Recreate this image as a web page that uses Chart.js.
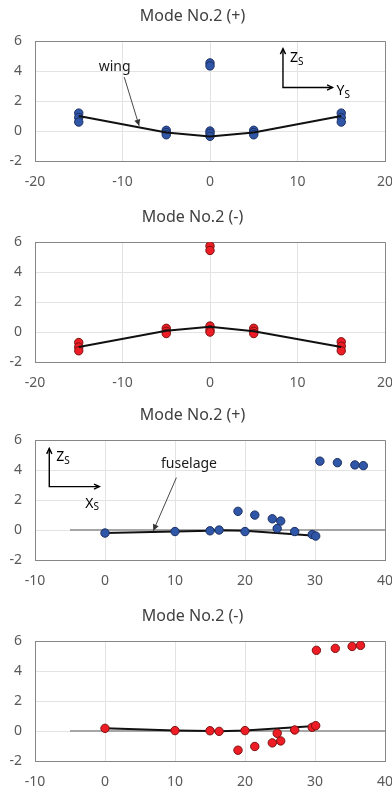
<!DOCTYPE html>
<html>
<head>
<meta charset="utf-8">
<script src="https://cdn.jsdelivr.net/npm/chart.js@4/dist/chart.umd.min.js"></script>
<style>
	html, body { margin: 0; padding: 0; background: #fff; overflow: hidden; }
	canvas { position: absolute; left: 0; }
</style>
</head>
<body>
<canvas id="c1" width="392" height="200" style="top:0"></canvas>
<canvas id="c2" width="392" height="200" style="top:201px"></canvas>
<canvas id="c3" width="392" height="200" style="top:399px"></canvas>
<canvas id="c4" width="392" height="200" style="top:600px"></canvas>
<script>
// ── Data ────────────────────────────────────────────────────────────
// Wing (span position Ys vs. vertical Zs)
const wingStations  = [-15, -5, 0, 5, 15];
const wingPointsX   = [-15, -15, -15, -5, -5, -5, 0, 0, 0, 0, 0, 5, 5, 5, 15, 15, 15];
const wingPlusZ     = [1.2, 0.9, 0.6, 0.05, -0.1, -0.25, 4.55, 4.35, 0, -0.15, -0.35, 0.05, -0.1, -0.25, 1.2, 0.9, 0.6];
const wingPlusLine  = [1.0, -0.1, -0.37, -0.1, 1.0];
const wingMinusZ    = [-0.7, -1.0, -1.25, 0.25, 0.05, -0.1, 5.75, 5.45, 0.4, 0.15, 0.0, 0.25, 0.05, -0.1, -0.65, -0.95, -1.25];
const wingMinusLine = [-1.0, 0.08, 0.36, 0.05, -1.0];

// Fuselage (length position Xs vs. vertical Zs)
const fusStations   = [0, 10, 15, 16.3, 20, 30];
const fusPlusX      = [0, 10, 15, 16.3, 20, 19, 21.4, 23.9, 25.1, 24.6, 27.1, 29.6, 30.1, 30.7, 33.2, 35.7, 36.9];
const fusPlusZ      = [-0.2, -0.1, -0.05, 0, -0.1, 1.25, 1.0, 0.75, 0.6, 0.1, -0.1, -0.3, -0.4, 4.6, 4.5, 4.35, 4.3];
const fusPlusLine   = [-0.2, -0.1, -0.05, -0.02, -0.05, -0.38];
const fusMinusX     = [0, 10, 15, 16.3, 20, 19, 21.4, 23.9, 25.1, 24.6, 27.1, 29.6, 30.1, 30.2, 32.9, 35.3, 36.5];
const fusMinusZ     = [0.18, 0.03, 0.02, -0.02, 0.03, -1.28, -1.03, -0.79, -0.66, -0.15, 0.07, 0.25, 0.36, 5.39, 5.52, 5.65, 5.72];
const fusMinusLine  = [0.18, 0.03, 0.0, -0.02, 0.03, 0.33];

const baseX = [-5, 40];
const baseZ = [0, 0];

const wingTicks = [-20, -10, 0, 10, 20];
const fusTicks  = [-10, 0, 10, 20, 30, 40];
const zTicks    = [-2, 0, 2, 4, 6];

// ── Styles ──────────────────────────────────────────────────────────
const FONT  = "'Noto Sans', sans-serif";
const FRAME = "#868686";
const GRID  = "#e3e3e3";
const BLUE  = { fill: "#3056a8", edge: "#1b2f63" };
const RED   = { fill: "#ee1c24", edge: "#7a1212" };

const pts = (xs, ys) => xs.map((x, i) => ({ x: x, y: ys[i] }));

// ── Annotations (placed in data units) ──────────────────────────────
function arrowHead(ctx, x1, y1, x2, y2, size, filled) {
	const a = Math.atan2(y2 - y1, x2 - x1);
	ctx.beginPath();
	ctx.moveTo(x2 - size * Math.cos(a - 0.45), y2 - size * Math.sin(a - 0.45));
	ctx.lineTo(x2, y2);
	ctx.lineTo(x2 - size * Math.cos(a + 0.45), y2 - size * Math.sin(a + 0.45));
	if (filled) { ctx.closePath(); ctx.fill(); } else { ctx.stroke(); }
}

function subLabel(ctx, x, y, main, sub) {
	ctx.font = "14px " + FONT;
	ctx.textBaseline = "middle";
	ctx.textAlign = "left";
	ctx.fillText(main, x, y);
	const w = ctx.measureText(main).width;
	ctx.font = "10px " + FONT;
	ctx.fillText(sub, x + w, y + 4);
}

function notePlugin(note) {
	return {
		id: "note",
		afterDatasetsDraw(chart) {
			const ctx = chart.ctx, sx = chart.scales.x, sy = chart.scales.y;
			const px = v => sx.getPixelForValue(v), py = v => sy.getPixelForValue(v);
			ctx.save();
			ctx.fillStyle = "#000";
			ctx.strokeStyle = "#000";

			// leader arrow + label
			ctx.font = "14px " + FONT;
			ctx.textAlign = "center";
			ctx.textBaseline = "middle";
			ctx.fillStyle = "#1a1a1a";
			ctx.fillText(note.text, px(note.tx), py(note.ty));
			ctx.strokeStyle = "#333";
			ctx.fillStyle = "#333";
			ctx.lineWidth = 0.9;
			ctx.beginPath();
			ctx.moveTo(px(note.a[0]), py(note.a[1]));
			ctx.lineTo(px(note.b[0]), py(note.b[1]));
			ctx.stroke();
			arrowHead(ctx, px(note.a[0]), py(note.a[1]), px(note.b[0]), py(note.b[1]), 7, true);

			// coordinate system glyph
			const ox = px(note.o[0]), oy = py(note.o[1]);
			const tx = px(note.right), ty = py(note.up);
			ctx.strokeStyle = "#000";
			ctx.fillStyle = "#000";
			ctx.lineWidth = 1.4;
			ctx.beginPath();
			ctx.moveTo(ox, ty);
			ctx.lineTo(ox, oy);
			ctx.lineTo(tx, oy);
			ctx.stroke();
			arrowHead(ctx, ox, oy, ox, ty, 6, false);
			arrowHead(ctx, ox, oy, tx, oy, 6, false);
			subLabel(ctx, ox + 7, ty + 9, "Z", "S");
			subLabel(ctx, note.hLabelBelow ? ox + 36 : tx + 4, note.hLabelBelow ? oy + 17 : oy + 4, note.hName, "S");
			ctx.restore();
		},
	};
}

// ── Chart builder ───────────────────────────────────────────────────
function buildChart(id, title, xTicks, color, scatter, lineX, lineY, withBase, lineOnTop, note) {
	const xMin = xTicks[0], xMax = xTicks[xTicks.length - 1];
	const datasets = [
		{
			label: "points", data: scatter,
			backgroundColor: color.fill, borderColor: color.edge, borderWidth: 1,
			pointRadius: 4.2, showLine: false, order: lineOnTop ? 2 : 1,
		},
		{
			label: "line", data: pts(lineX, lineY),
			showLine: true, borderColor: "#111", borderWidth: 2, pointRadius: 0,
			order: lineOnTop ? 1 : 2,
		},
	];
	if (withBase) {
		datasets.push({
			label: "base", data: pts(baseX, baseZ),
			showLine: true, borderColor: "#a6a6a6", borderWidth: 2, pointRadius: 0, order: 3,
		});
	}
	const edgeColor = (lo, hi) => c => (c.tick && (c.tick.value === lo || c.tick.value === hi)) ? FRAME : GRID;

	return new Chart(document.getElementById(id), {
		type: "scatter",
		data: { datasets: datasets },
		options: {
			responsive: false,
			animation: false,
			layout: { padding: { left: 0, right: 7, top: 0, bottom: 0 } },
			plugins: {
				legend: { display: false },
				tooltip: { enabled: false },
				title: {
					display: true, text: title, color: "#404040",
					font: { family: FONT, size: 16, weight: "normal" },
					padding: { top: 7, bottom: 15 },
				},
			},
			scales: {
				x: {
					type: "linear", min: xMin, max: xMax,
					afterBuildTicks: s => { s.ticks = xTicks.map(v => ({ value: v })); },
					afterFit: s => { s.height = 39; s.paddingLeft = 0; s.paddingRight = 0; },
					grid: { color: edgeColor(xMin, xMax), drawTicks: false, lineWidth: 1 },
					border: { color: FRAME, width: 1 },
					ticks: { color: "#595959", padding: 13, maxRotation: 0, font: { family: FONT, size: 14 } },
				},
				y: {
					type: "linear", min: -2, max: 6,
					afterBuildTicks: s => { s.ticks = zTicks.map(v => ({ value: v })); },
					afterFit: s => { s.width = 35; },
					grid: { color: edgeColor(-2, 6), drawTicks: false, lineWidth: 1 },
					border: { color: FRAME, width: 1 },
					ticks: { color: "#595959", padding: 13, font: { family: FONT, size: 14 } },
				},
			},
		},
		plugins: note ? [notePlugin(note)] : [],
	});
}

// ── Panels ──────────────────────────────────────────────────────────
buildChart("c1", "Mode No.2 (+)", wingTicks, BLUE, pts(wingPointsX, wingPlusZ), wingStations, wingPlusLine, false, true, {
	text: "wing", tx: -10.9, ty: 4.27, a: [-9.8, 3.6], b: [-8.1, 0.35],
	o: [8.34, 2.91], up: 5.5, right: 14.0, hName: "Y", hLabelBelow: false,
});
buildChart("c2", "Mode No.2 (-)", wingTicks, RED, pts(wingPointsX, wingMinusZ), wingStations, wingMinusLine, false, true, null);
buildChart("c3", "Mode No.2 (+)", fusTicks, BLUE, pts(fusPlusX, fusPlusZ), fusStations, fusPlusLine, true, false, {
	text: "fuselage", tx: 12.0, ty: 4.4, a: [10.2, 3.5], b: [6.9, -0.05],
	o: [-7.96, 2.9], up: 5.45, right: -0.8, hName: "X", hLabelBelow: true,
});
buildChart("c4", "Mode No.2 (-)", fusTicks, RED, pts(fusMinusX, fusMinusZ), fusStations, fusMinusLine, true, false, null);
</script>
</body>
</html>
